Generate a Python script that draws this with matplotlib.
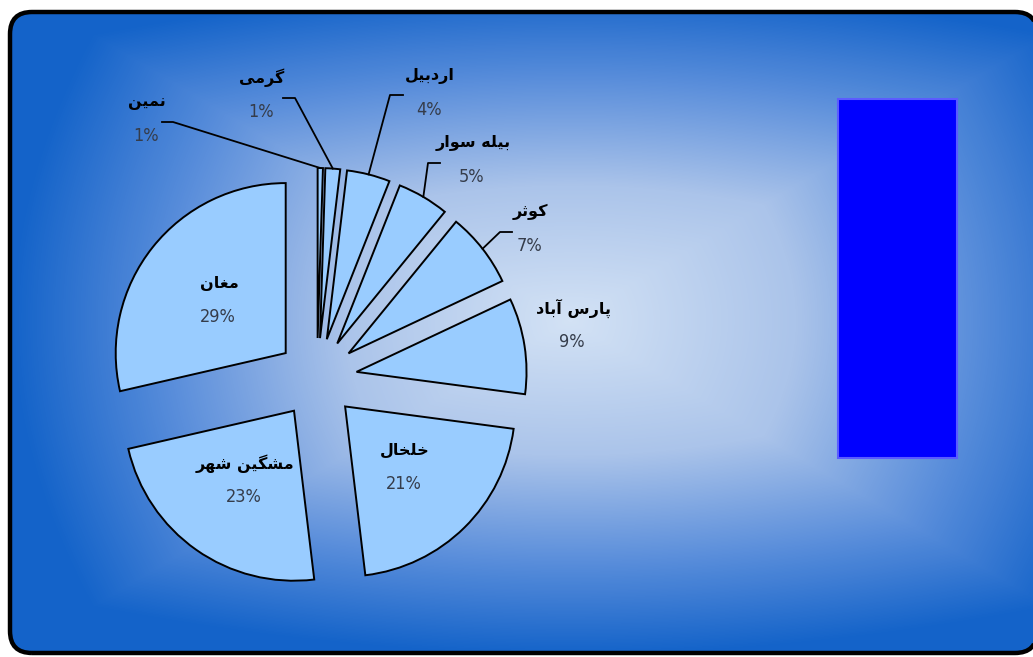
import numpy as np
import matplotlib
matplotlib.use("Agg")
import matplotlib.pyplot as plt
from matplotlib.patches import FancyBboxPatch, Rectangle, Polygon
from matplotlib.colors import LinearSegmentedColormap

W, H = 1033, 657

# slices, clockwise from 12 o'clock
regions = ["نمین", "گرمی", "اردبیل", "بیله سوار", "کوثر", "پارس آباد", "خلخال", "مشگین شهر", "مغان"]
shares = [0.5, 1.4, 4.1, 4.9, 7.1, 9.1, 21.0, 23.3, 28.6]

# pie layout in pixels (y measured from top)
CX, CY, R = 317, 378, 170
EXPLODE = 40  # matplotlib explode is in data units

# outside labels: title pos, then knee and end of the leader stub (None = no leader)
outside = {
    0: ((147, 102), (173, 122), (162, 122)),
    1: ((262, 78), (295, 98), (283, 98)),
    2: ((430, 76), (390, 95), (403, 95)),
    3: ((473, 143), (428, 163), (440, 163)),
    4: ((530, 212), (500, 232), (512, 232)),
    5: ((573, 308), None, None),
}

# presentation forms: isolated, final, initial, medial
FORMS = {
    "ا": ("\uFE8D", "\uFE8E", None, None),
    "آ": ("\uFE81", "\uFE82", None, None),
    "ب": ("\uFE8F", "\uFE90", "\uFE91", "\uFE92"),
    "ث": ("\uFE99", "\uFE9A", "\uFE9B", "\uFE9C"),
    "خ": ("\uFEA5", "\uFEA6", "\uFEA7", "\uFEA8"),
    "د": ("\uFEA9", "\uFEAA", None, None),
    "ر": ("\uFEAD", "\uFEAE", None, None),
    "س": ("\uFEB1", "\uFEB2", "\uFEB3", "\uFEB4"),
    "ش": ("\uFEB5", "\uFEB6", "\uFEB7", "\uFEB8"),
    "غ": ("\uFECD", "\uFECE", "\uFECF", "\uFED0"),
    "ل": ("\uFEDD", "\uFEDE", "\uFEDF", "\uFEE0"),
    "م": ("\uFEE1", "\uFEE2", "\uFEE3", "\uFEE4"),
    "ن": ("\uFEE5", "\uFEE6", "\uFEE7", "\uFEE8"),
    "ه": ("\uFEE9", "\uFEEA", "\uFEEB", "\uFEEC"),
    "و": ("\uFEED", "\uFEEE", None, None),
    "پ": ("\uFB56", "\uFB57", "\uFB58", "\uFB59"),
    "ک": ("\uFB8E", "\uFB8F", "\uFB90", "\uFB91"),
    "گ": ("\uFB92", "\uFB93", "\uFB94", "\uFB95"),
    "ی": ("\uFBFC", "\uFBFD", "\uFBFE", "\uFBFF"),
}


def shape_fa(text):
    """Join Persian letters and reverse into visual order."""
    def dual(c):
        return c in FORMS and FORMS[c][2] is not None
    out = []
    for i, c in enumerate(text):
        if c not in FORMS:
            out.append(c)
            continue
        prev = text[i - 1] if i > 0 else ""
        nxt = text[i + 1] if i < len(text) - 1 else ""
        jp = dual(prev)
        jn = dual(c) and nxt in FORMS
        iso, fin, ini, med = FORMS[c]
        if jp and jn:
            out.append(med)
        elif jp:
            out.append(fin)
        elif jn:
            out.append(ini)
        else:
            out.append(iso)
    return "".join(reversed(out))


fig = plt.figure(figsize=(W / 100, H / 100), dpi=100)
fig.patch.set_facecolor("white")
ax = fig.add_axes([0, 0, 1, 1])

# rounded frame, running past the right edge; flattened to a polygon so
# clipping the stroke at the canvas edge doesn't distort the curves
box = FancyBboxPatch((10, 4), W - 6, H - 16, boxstyle="round,pad=0,rounding_size=22")
frame = Polygon(box.get_path().to_polygons()[0], closed=True, facecolor="none",
                edgecolor="black", linewidth=3.2, zorder=5)
ax.add_patch(frame)

# background: rectangular "from centre" gradient
yy, xx = np.mgrid[0:H, 0:W]
u = (xx - 570) / 560.0
v = (yy - 320) / 335.0
t = 0.6 * np.maximum(np.abs(u), np.abs(v)) + 0.4 * np.sqrt(u ** 2 + v ** 2)
t = np.clip(t, 0, 1)
cmap = LinearSegmentedColormap.from_list("bg", [(0, "#d3e2f5"), (0.4, "#abc4ea"), (0.72, "#5a8edb"), (1, "#1463c9")])
img = ax.imshow(t, cmap=cmap, vmin=0, vmax=1, extent=(0, W, 0, H), origin="upper", zorder=0)
img.set_clip_path(frame)

wedges, _ = ax.pie(shares, startangle=90, counterclock=False, center=(CX, H - CY), radius=R,
                   explode=[EXPLODE] * len(shares), colors=["#99ccff"] * len(shares),
                   wedgeprops=dict(edgecolor="black", linewidth=1.4))

total = sum(shares)
title_font = dict(family="DejaVu Sans", fontweight="bold", fontsize=11.5, color="black")
pct_font = dict(family="DejaVu Sans", fontstretch="condensed", fontsize=13, color="#353c4a")

for i, w in enumerate(wedges):
    ang = np.deg2rad((w.theta1 + w.theta2) / 2)
    cx, cy = w.center
    pct = f"{int(shares[i] / total * 100 + 0.5)}%"
    if i in outside:
        (tx, ty), knee, end = outside[i]
        ty = H - ty
        if knee is not None:
            ax.plot([cx + R * np.cos(ang), knee[0], end[0]], [cy + R * np.sin(ang), H - knee[1], H - end[1]],
                    color="black", lw=1.3, zorder=3)
    else:
        tx = cx + 0.5 * R * np.cos(ang)
        ty = cy + 0.5 * R * np.sin(ang) + 17
    ax.text(tx, ty, shape_fa(regions[i]), ha="center", va="center", zorder=4, **title_font)
    ax.text(tx - 1, ty - 34, pct, ha="center", va="center", zorder=4, **pct_font)

# empty legend box
ax.add_patch(Rectangle((838, H - 458), 119, 359, facecolor="#0000ff", edgecolor="#5b5bff", lw=1.5, zorder=3))

ax.set_xlim(0, W)
ax.set_ylim(0, H)
ax.set_aspect("auto")
ax.axis("off")
fig.savefig("out.png", dpi=100)
